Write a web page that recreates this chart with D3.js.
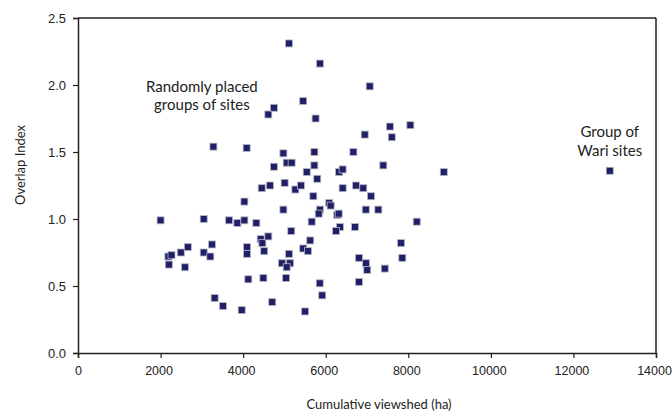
<!DOCTYPE html>
<html lang="en">
<head>
    <meta charset="UTF-8">
    <title>Overlap Index vs Cumulative viewshed</title>
    <script src="https://d3js.org/d3.v7.min.js"></script>
    <style>
        body {
            margin: 0;
            background: #fff;
        }
        svg {
            display: block;
            font-family: Lato, "Open Sans", sans-serif;
        }
        .tick text {
            font-size: 13px;
            fill: #222;
        }
        .x-axis .tick text {
            font-size: 12.5px;
        }
        .axis-label {
            font-size: 13px;
            fill: #222;
        }
        .note {
            font-size: 15px;
            fill: #222;
        }
        .pt {
            fill: #202068;
            stroke: #b8b8c4;
            stroke-width: 0.8;
        }
    </style>
</head>
<body>
    <svg width="672" height="414"></svg>
    <script>
        // Randomly placed groups of sites
        const randomViewshed = [
            2000, 2190, 2265, 2490, 2660, 2200, 2590, 3045, 3245, 3045,
            3205, 3280, 3310, 3510, 3660, 3860, 4030, 4320, 4030, 3965,
            4085, 4095, 4095, 4125, 4425, 4465, 4610, 4510, 4490, 4705,
            4450, 4650, 4610, 4745, 4745, 4975, 5055, 5175, 5005, 5265,
            5400, 4975, 5165, 5110, 4940, 5135, 5055, 5040, 5110, 5455,
            5860, 5755, 5725, 5725, 5540, 5795, 5700, 5860, 5830, 5660,
            5625, 5455, 5570, 5855, 5915, 5500, 6085, 6120, 6280, 6315,
            6345, 6250, 6320, 6410, 6410, 6670, 6735, 6910, 6710, 6970,
            7275, 7095, 7065, 6945, 7555, 7600, 8050, 7395, 8860, 8205,
            7825, 7855, 7430, 6805, 6975, 7005, 6805
        ];
        const randomOverlap = [
            0.99, 0.72, 0.73, 0.75, 0.79, 0.66, 0.64, 1.00, 0.81, 0.75,
            0.72, 1.54, 0.41, 0.35, 0.99, 0.97, 0.99, 0.97, 1.13, 0.32,
            1.53, 0.79, 0.74, 0.55, 0.85, 0.82, 0.87, 0.76, 0.56, 0.38,
            1.23, 1.25, 1.78, 1.83, 1.39, 1.49, 1.42, 1.42, 1.27, 1.22,
            1.25, 1.07, 0.91, 0.74, 0.67, 0.67, 0.64, 0.56, 2.31, 1.88,
            2.16, 1.75, 1.50, 1.40, 1.35, 1.30, 1.17, 1.07, 1.04, 0.98,
            0.84, 0.78, 0.76, 0.52, 0.43, 0.31, 1.12, 1.10, 1.03, 1.04,
            0.94, 0.91, 1.35, 1.37, 1.23, 1.50, 1.25, 1.23, 0.94, 1.07,
            1.07, 1.17, 1.99, 1.63, 1.69, 1.61, 1.70, 1.40, 1.35, 0.98,
            0.82, 0.71, 0.63, 0.71, 0.67, 0.62, 0.53
        ];
        // Group of Wari sites
        const wariViewshed = [12880];
        const wariOverlap = [1.36];

        const xTicks = [0, 2000, 4000, 6000, 8000, 10000, 12000, 14000];
        const yTicks = [0, 0.5, 1.0, 1.5, 2.0, 2.5];

        const margin = {top: 18, right: 16, bottom: 61, left: 78},
              width = 672 - margin.left - margin.right,
              height = 414 - margin.top - margin.bottom;

        const svg = d3.select("svg")
                      .append("g")
                      .attr("transform", `translate(${margin.left},${margin.top})`);

        const x = d3.scaleLinear().domain([0, 14000]).range([0, width]);
        const y = d3.scaleLinear().domain([0, 2.5]).range([height, 0]);

        // Axes
        const xAxis = svg.append("g")
           .attr("class", "x-axis")
           .attr("transform", `translate(0,${height})`)
           .call(d3.axisBottom(x).tickValues(xTicks).tickFormat(d3.format("d")).tickSizeOuter(0).tickSize(5).tickPadding(8));
        xAxis.selectAll(".tick text").attr("dx", d => d === 0 ? 0 : -2);

        const yAxis = svg.append("g")
           .call(d3.axisLeft(y).tickValues(yTicks).tickFormat(d3.format(".1f")).tickSizeOuter(0).tickSize(5).tickPadding(7));

        [xAxis, yAxis].forEach(a => {
            a.select(".domain").attr("stroke", "#222").attr("stroke-width", 1.5);
            a.selectAll(".tick line").attr("stroke", "#222").attr("stroke-width", 1.2);
        });

        // Box top and right
        svg.append("line")
           .attr("x1", 0).attr("x2", width).attr("y1", 0).attr("y2", 0)
           .attr("stroke", "#222").attr("stroke-width", 1.5);
        svg.append("line")
           .attr("x1", width).attr("x2", width).attr("y1", 0).attr("y2", height)
           .attr("stroke", "#222").attr("stroke-width", 1.5);

        // Axis labels
        svg.append("text")
           .attr("class", "axis-label")
           .attr("x", width / 2 + 12)
           .attr("y", height + 56)
           .attr("text-anchor", "middle")
           .text("Cumulative viewshed (ha)");

        svg.append("text")
           .attr("class", "axis-label")
           .attr("transform", "rotate(-90)")
           .attr("x", -147)
           .attr("y", -53)
           .attr("text-anchor", "middle")
           .text("Overlap Index");

        // Points
        const pts = randomViewshed.map((v, i) => ({v, o: randomOverlap[i]}))
            .concat(wariViewshed.map((v, i) => ({v, o: wariOverlap[i]})));
        const s = 7;
        svg.selectAll(".pt")
           .data(pts)
           .enter().append("rect")
           .attr("class", "pt")
           .attr("x", d => x(d.v) - s / 2)
           .attr("y", d => y(d.o) - s / 2)
           .attr("width", s)
           .attr("height", s);

        // Annotations
        const note1 = svg.append("text").attr("class", "note").attr("text-anchor", "middle");
        note1.append("tspan").attr("x", x(3000)).attr("y", y(1.95)).text("Randomly placed");
        note1.append("tspan").attr("x", x(3000)).attr("y", y(1.81)).text("groups of sites");

        const note2 = svg.append("text").attr("class", "note").attr("text-anchor", "middle");
        note2.append("tspan").attr("x", x(12880)).attr("y", y(1.61)).text("Group of");
        note2.append("tspan").attr("x", x(12880)).attr("y", y(1.47)).text("Wari sites");
    </script>
</body>
</html>
